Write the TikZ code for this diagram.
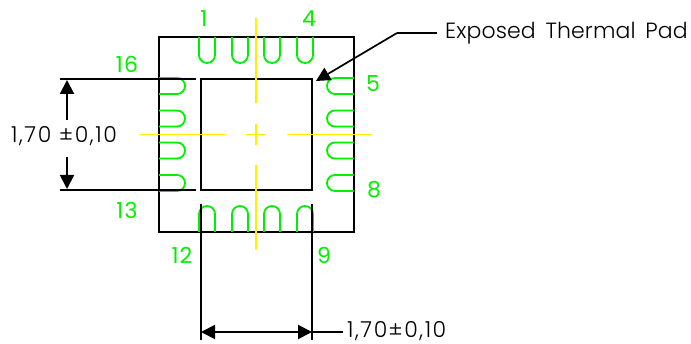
\documentclass[tikz,border=0pt]{standalone}
\usepackage{fontspec}
\setmainfont{Poppins Light}
\newfontfamily\padfont[LetterSpace=0.5,WordSpace=1.6]{Poppins Light}
\newfontfamily\dimfont[LetterSpace=7]{Poppins Light}
\newfontfamily\pinfont[LetterSpace=5]{Poppins}
\usetikzlibrary{arrows.meta}
\definecolor{pingreen}{RGB}{0,240,0}
\definecolor{axisyellow}{RGB}{255,240,0}
\tikzset{
  body/.style={draw=black,line width=2.1pt},
  thinline/.style={draw=black,line width=1.5pt},
  pin/.style={draw=pingreen,line width=1.8pt},
  axis/.style={draw=axisyellow,line width=1.8pt},
  headed/.style={thinline,line width=2pt,-{Triangle[length=14pt,width=14pt]}},
  pinlabel/.style={text=pingreen,font=\pinfont\fontsize{22}{22}\selectfont,inner sep=0pt},
  dimlabel/.style={text=black,font=\dimfont\fontsize{22}{22}\selectfont,inner sep=0pt,anchor=west},
}
\begin{document}
\begin{tikzpicture}[x=1pt,y=-1pt]
\useasboundingbox (0,0) rectangle (691,344);
% body
\coordinate (oa) at (159,37); \coordinate (ob) at (354,232);
\coordinate (ia) at (201,79); \coordinate (ib) at (312,190);
\draw[body] (oa) rectangle (ob);
\draw[body] (ia) rectangle (ib);
% pins
\foreach \x in {199,232,264,297}{
  \draw[pin] (\x,37) -- (\x,55) arc[start angle=180,end angle=0,radius=8] -- (\x+16,37);
  \draw[pin] (\x,232) -- (\x,214) arc[start angle=180,end angle=360,radius=8] -- (\x+16,232);
}
\foreach \y in {78,110.5,142.5,175}{
  \draw[pin] (159,\y) -- (177,\y) arc[start angle=-90,end angle=90,radius=8] -- (159,\y+16);
  \draw[pin] (354,\y) -- (335,\y) arc[start angle=270,end angle=90,radius=8] -- (354,\y+16);
}
% extension lines
\coordinate (e1a) at (60,79);  \coordinate (e1b) at (196,79);
\coordinate (e2a) at (60,190); \coordinate (e2b) at (196,190);
\coordinate (e3a) at (201,204); \coordinate (e3b) at (201,340);
\coordinate (e4a) at (312,204); \coordinate (e4b) at (312,340);
\draw[thinline] (e1a) -- (e1b);
\draw[thinline] (e2a) -- (e2b);
\draw[thinline] (e3a) -- (e3b);
\draw[thinline] (e4a) -- (e4b);
% axes
\draw[axis] (256,18) -- (256,103);
\draw[axis] (256,124) -- (256,145);
\draw[axis] (256,165) -- (256,250);
\draw[axis] (140,134.5) -- (225,134.5);
\draw[axis] (246,134.5) -- (266,134.5);
\draw[axis] (287,134.5) -- (372,134.5);
% dimensions
\coordinate (v1a) at (67,120); \coordinate (v1b) at (67,80);
\coordinate (v2a) at (67,157); \coordinate (v2b) at (67,189);
\draw[headed] (v1a) -- (v1b);
\draw[headed] (v2a) -- (v2b);
\coordinate (h1) at (201,332); \coordinate (h2) at (312,332);
\draw[headed,{Triangle[length=14pt,width=14pt]}-{Triangle[length=14pt,width=14pt]}] (h1) -- (h2);
\node[dimlabel] (hval) at (347,331) {1,70\kern1pt±0,10};
\coordinate (hl) at (343,332);
\draw[thinline] (h2) -- (hl);
\node[dimlabel] (vval) at (11,136) {1,70 ±0,10};
% thermal pad callout
\node[dimlabel,font=\padfont\fontsize{22}{22}\selectfont] (pad) at (445,33) {Exposed Thermal Pad};
\coordinate (bend) at (397,33); \coordinate (padtip) at (316,81);
\draw[thinline] (pad.west) ++(-8,0) -- (bend);
\draw[headed,line width=1.7pt] (bend) -- (padtip);
% pin labels
\node[pinlabel] (p1) at (204,19) {1};
\node[pinlabel] (p4) at (309,19) {4};
\node[pinlabel] (p16) at (127,64) {16};
\node[pinlabel] (p5) at (373,84) {5};
\node[pinlabel] (p8) at (374,190) {8};
\node[pinlabel] (p13) at (127,210) {13};
\node[pinlabel] (p12) at (182,255) {12};
\node[pinlabel] (p9) at (324,255) {9};
\end{tikzpicture}
\end{document}
